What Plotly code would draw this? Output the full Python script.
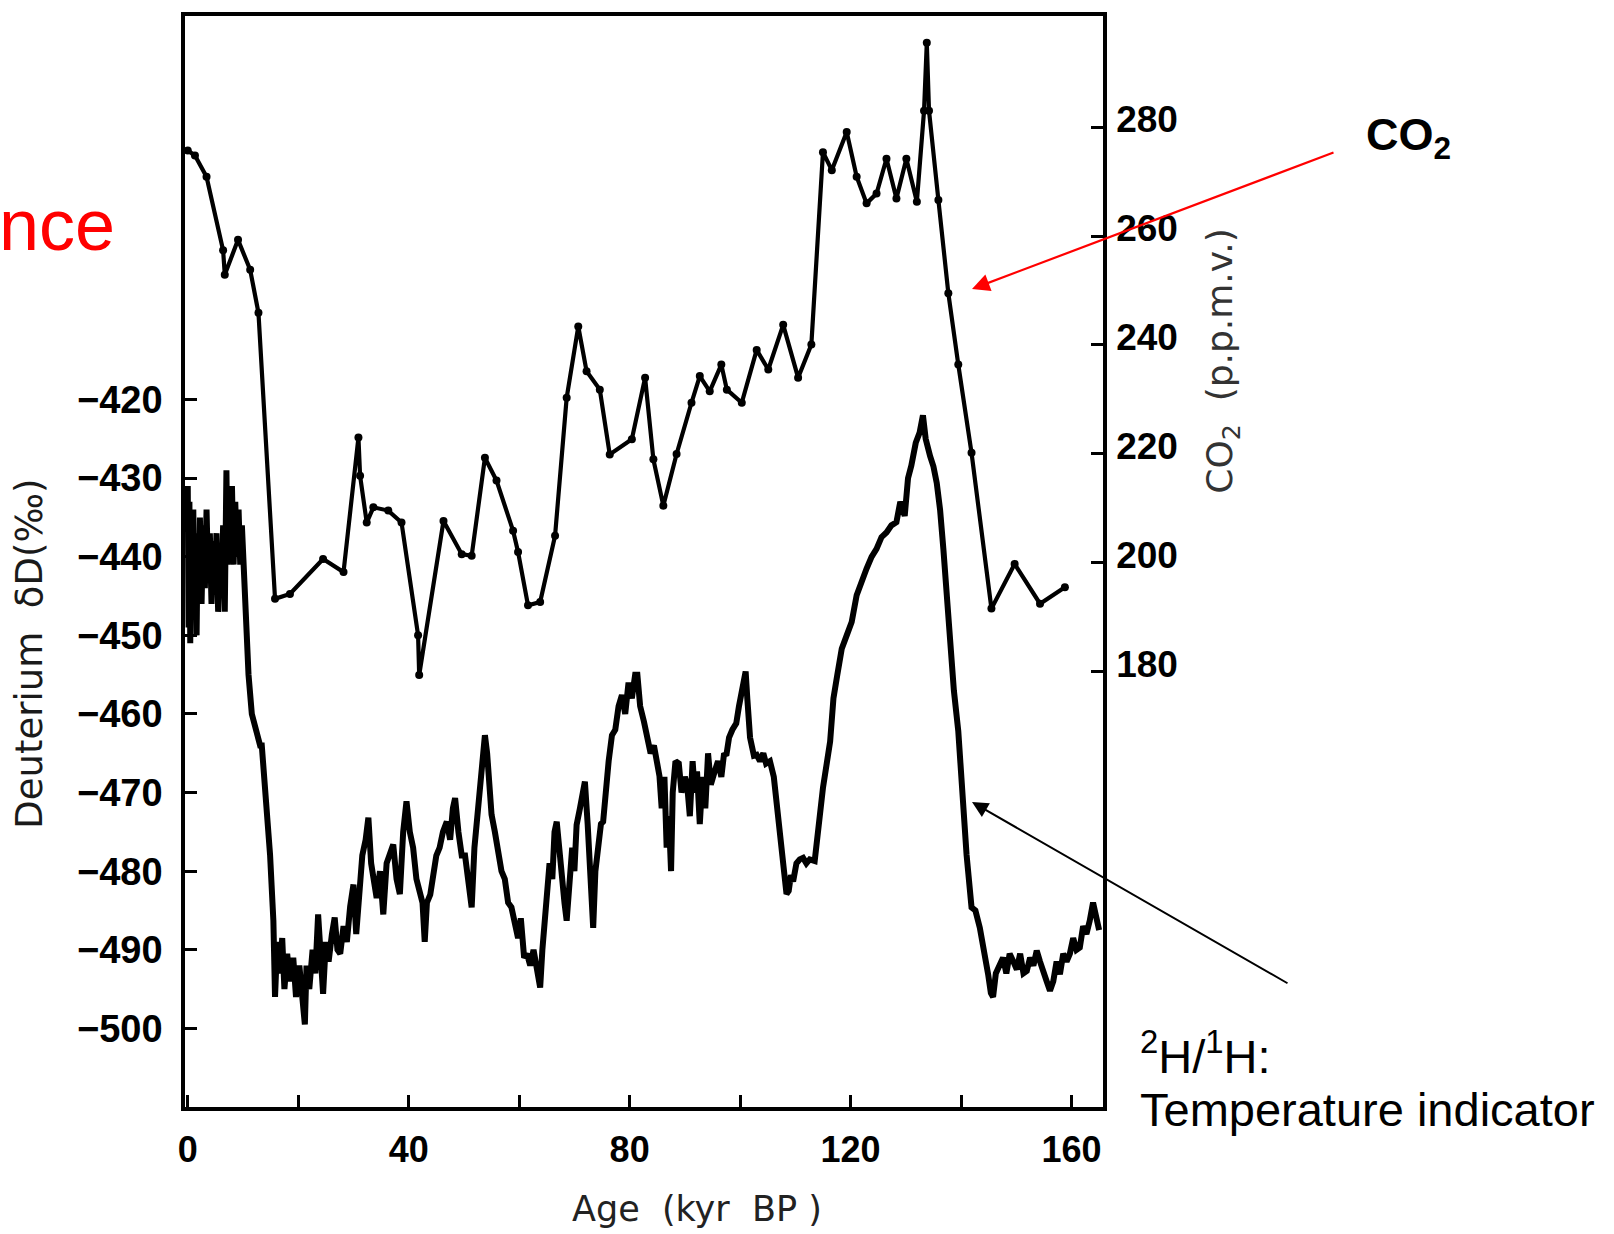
import plotly.graph_objects as go

# ---------------- data ----------------
co2_age = [0, 1.3, 3.4, 6.4, 6.7, 9.1, 11.3, 12.8, 15.8, 18.5, 24.5, 28.2, 30.9, 31.2, 32.4,
           33.6, 36.3, 38.7, 41.7, 41.9, 46.3, 49.6, 51.4, 53.8, 55.9, 58.9, 59.8, 61.6, 63.8,
           66.5, 68.6, 70.7, 72.2, 74.6, 76.4, 80.4, 82.8, 84.3, 86.1, 88.5, 91.2, 92.7, 94.5,
           96.6, 97.6, 100.3, 103.0, 105.1, 107.8, 110.5, 112.9, 115.0, 116.6, 119.3, 121.1,
           122.9, 124.7, 126.5, 128.3, 130.1, 132.0, 133.3, 133.8, 134.2, 135.9, 137.7, 139.5,
           141.9, 145.5, 149.7, 154.3, 158.8]
co2_ppmv = [275.7, 274.8, 270.9, 257.4, 252.9, 259.3, 253.8, 245.9, 193.4, 194.3, 200.7, 198.3,
            223.0, 216.0, 207.4, 210.2, 209.6, 207.4, 186.7, 179.4, 207.7, 201.6, 201.3, 219.3,
            215.1, 205.9, 202.0, 192.2, 192.8, 205.0, 230.3, 243.4, 235.2, 231.8, 219.9, 222.7,
            234.0, 219.0, 210.5, 220.0, 229.4, 234.3, 231.5, 236.4, 231.8, 229.4, 239.1, 235.5,
            243.7, 234.0, 240.1, 275.4, 272.1, 279.1, 270.9, 266.0, 267.8, 274.2, 266.9, 274.2,
            266.3, 283.0, 295.5, 283.0, 266.6, 249.5, 236.4, 220.2, 191.6, 199.8, 192.5, 195.5]

d_age = [0.0, 0.15, 0.3, 0.45, 0.6, 0.8, 1.0, 1.2, 1.4, 1.6, 1.8, 2.0, 2.2, 2.5, 2.8, 3.1, 3.4,
         3.7, 4.0, 4.3, 4.6, 4.9, 5.2, 5.5, 5.8, 6.1, 6.4, 6.7, 7.0, 7.2, 7.4, 7.7, 8.0, 8.3, 8.6,
         8.9, 9.2, 9.5, 9.8, 10.1, 10.4, 10.7, 11.0, 11.6, 12.3, 13.1, 13.4, 14.0, 14.9, 15.5,
         15.8, 16.2, 16.7, 17.1, 17.5, 18.0, 18.5, 19.1, 19.6, 20.2, 20.7, 21.2, 21.5, 22.0, 22.6,
         23.1, 23.6, 24.0, 24.5, 25.0, 25.5, 26.1, 26.6, 27.1, 27.6, 28.2, 28.8, 29.4, 30.0, 30.5,
         31.0, 31.6, 32.2, 32.7, 33.2, 33.7, 34.2, 34.8, 35.4, 36.0, 36.6, 37.2, 37.8, 38.4, 39.0,
         39.6, 40.2, 40.8, 41.4, 42.0, 42.5, 42.9, 43.3, 43.9, 44.4, 45.0, 45.6, 46.2, 46.9, 47.5,
         48.0, 48.4, 49.0, 49.6, 50.2, 50.8, 51.4, 51.9, 52.6, 53.2, 53.8, 54.2, 54.6, 55.0, 55.6,
         56.2, 56.8, 57.4, 58.0, 58.6, 59.2, 59.8, 60.3, 60.9, 61.4, 62.0, 62.6, 63.2, 63.8, 64.2,
         64.6, 65.0, 65.5, 66.0, 66.4, 66.8, 67.3, 67.8, 68.2, 68.6, 69.1, 69.6, 70.0, 70.4, 71.0,
         71.5, 71.9, 72.4, 72.9, 73.4, 73.8, 74.3, 74.8, 75.2, 75.7, 76.2, 76.8, 77.4, 78.0, 78.6,
         79.2, 79.8, 80.4, 81.0, 81.4, 81.9, 82.6, 83.2, 83.8, 84.4, 85.0, 85.4, 85.8, 86.3, 86.7,
         87.1, 87.5, 87.8, 88.3, 88.9, 89.4, 90.0, 90.4, 90.9, 91.4, 91.8, 92.2, 92.7, 93.2, 93.7,
         94.2, 94.7, 95.4, 96.0, 96.6, 97.1, 97.5, 98.0, 98.6, 99.3, 99.8, 100.3, 100.7, 101.0,
         101.3, 101.8, 102.5, 103.0, 103.6, 104.2, 104.7, 105.4, 106.1, 106.6, 107.0, 107.5,
         108.0, 108.4, 108.8, 109.2, 109.6, 110.2, 110.8, 111.4, 112.0, 112.6, 113.5, 114.2,
         115.0, 116.3, 116.9, 117.6, 118.4, 119.3, 120.2, 121.1, 122.0, 122.9, 123.8, 124.7,
         125.6, 126.5, 127.4, 128.3, 129.0, 129.8, 130.4, 131.0, 131.8, 132.5, 133.1, 133.6,
         134.4, 135.0, 135.6, 136.2, 136.8, 137.4, 138.0, 138.7, 139.5, 140.1, 141.0, 141.9,
         142.6, 143.4, 144.2, 144.9, 145.4, 145.8, 146.3, 147.0, 147.6, 148.2, 148.8, 149.4,
         150.1, 150.7, 151.3, 151.9, 152.5, 153.1, 153.7, 154.3, 154.9, 155.5, 156.1, 156.7,
         157.3, 157.9, 158.5, 159.1, 159.7, 160.3, 160.9, 161.5, 162.1, 162.7, 163.3, 163.9,
         164.5, 165.0]
d_val = [-431, -449, -433, -451, -436, -448, -434, -447, -438, -450, -437, -445, -435, -446, -436,
         -444, -434, -443, -437, -446, -438, -444, -437, -447, -439, -445, -436, -447, -429, -441,
         -432, -440, -431, -441, -433, -440, -434, -441, -436, -442, -446, -451.7, -455, -460,
         -462, -464, -464, -469.4, -477.9, -486.3,
         -496, -489, -493, -488.5, -495, -490.5, -494, -491, -496, -492, -497, -499.5, -492, -495,
         -490, -493, -485.5, -491, -495.6, -489, -491.5, -488, -485.9, -490, -490.5, -487, -489,
         -484.5, -481.7, -488, -482, -478, -476, -473.2, -479, -481, -483.4, -480, -485.5, -479,
         -478, -476.6, -481, -482.9, -475, -471.1, -475, -477, -481, -483, -484, -489, -484, -483,
         -480, -478, -477, -475, -473.7, -476, -472, -470.7, -475, -478, -478, -481, -484.6, -477,
         -471.5, -466, -462.7, -465, -469, -472.8, -475, -478, -480, -481, -484, -484.6, -487,
         -488.5, -486, -491, -490.5, -492, -490, -493, -494.8, -490, -487, -482, -479, -481, -475,
         -473.7, -478, -482, -484, -486.3, -481, -477, -480, -474.1, -472, -470, -468.6, -474,
         -482, -487.2, -480, -476, -474, -473.7, -469, -466, -462.7, -462, -459, -457.6, -460,
         -456, -458, -455, -455, -459, -461, -462.7, -465, -464, -467, -467.9, -472, -468, -477,
         -473, -480, -470, -466, -466.3, -470, -468, -468.9, -473, -466, -470, -467.3, -474, -468,
         -472, -465, -469, -467.3, -466, -468, -465, -465.3, -463, -462, -461.2, -459, -457, -455,
         -454.6, -458, -463, -465.3, -465.2, -466, -465, -466.3, -466, -468, -471, -474, -476,
         -480, -482.9, -482.5, -480.5, -481.3, -479, -478.5, -478.3, -479, -478.5, -478.7, -474,
         -469.4, -463.5, -458, -455, -451.7, -450, -448.3, -444.9, -443, -441.5, -440, -439,
         -437.5, -436.9, -436, -435.6, -433, -434.8, -430, -428.4, -425.5, -424.2, -422, -425,
         -427.2, -428.5, -430.6, -434, -439, -445, -451.7, -457, -462.2, -469.4, -477.9, -484.6,
         -485, -487.2, -490, -493.1, -495.5, -496, -493, -491.8, -491, -493, -490.5, -491.4,
         -492.5, -490.5, -493, -492.7, -491, -492, -490.1, -491.5, -493, -494, -495.2, -494,
         -491.5, -493.1, -490.5, -491.5, -490.5, -488.5, -490, -489.7, -487, -488, -486.3, -484,
         -485.9, -487.5]

x_tick_vals = [0, 20, 40, 60, 80, 100, 120, 140, 160]
x_tick_text = ["0", "", "40", "", "80", "", "120", "", "160"]
d_tick_vals = [-420, -430, -440, -450, -460, -470, -480, -490, -500]
co2_tick_vals = [180, 200, 220, 240, 260, 280]

# ---------------- figure ----------------
W, H = 1614, 1234
L, R, T, B = 185, 1103, 12, 1107  # plot-area pixel box


def px(x):
    return (x - L) / (R - L)


def py(y):
    return (B - y) / (B - T)


TICKFONT = "Liberation Sans, Arial, sans-serif"

fig = go.Figure()
fig.add_trace(go.Scatter(x=d_age, y=d_val, mode="lines", yaxis="y",
                         line=dict(color="black", width=6), name="Deuterium",
                         showlegend=False))
fig.add_trace(go.Scatter(x=co2_age, y=co2_ppmv, mode="lines+markers", yaxis="y2",
                         line=dict(color="black", width=4.2),
                         marker=dict(color="black", size=8), name="CO2",
                         showlegend=False))

axis_common = dict(showgrid=False, zeroline=False, showline=True, linecolor="black",
                   linewidth=3.5, ticks="inside", ticklen=12, tickwidth=2.5, tickcolor="black")

fig.update_layout(
    width=W, height=H, autosize=False,
    margin=dict(l=L, r=W - R, t=T, b=H - B, pad=0),
    paper_bgcolor="white", plot_bgcolor="white",
    xaxis=dict(range=[-0.5, 165.7], tickvals=x_tick_vals, ticktext=x_tick_text,
               mirror=True, ticklabelstandoff=8,
               tickfont=dict(family=TICKFONT, size=36, color="black", weight="bold"),
               **axis_common),
    yaxis=dict(range=[-510, -371.2], tickvals=d_tick_vals, ticklabelstandoff=11,
               tickfont=dict(family=TICKFONT, size=38, color="black", weight="bold"),
               **axis_common),
    yaxis2=dict(range=[100.1, 300.4], tickvals=co2_tick_vals, overlaying="y", side="right",
                ticklabelstandoff=2, ticklabelshift=-8,
                tickfont=dict(family=TICKFONT, size=37, color="black", weight="bold"),
                **axis_common),
)

NB = "\u00a0"
ann = []
# axis titles
ann.append(dict(text="Deuterium" + NB * 2 + "δD(‰)", x=px(30), y=py(652), xref="paper", yref="paper",
                textangle=-90, showarrow=False, xanchor="center", yanchor="middle",
                font=dict(family="DejaVu Sans", size=37, color="#1a1a1a")))
ann.append(dict(text="CO<sub>2</sub>" + NB * 2 + "(p.p.m.v.)", x=px(1223), y=py(358), xref="paper",
                yref="paper", textangle=-90, showarrow=False, xanchor="center", yanchor="middle",
                font=dict(family="DejaVu Sans", size=36, color="#333333")))
ann.append(dict(text="Age" + NB * 2 + "(kyr" + NB * 2 + "BP" + NB + ")", x=px(697), y=py(1209),
                xref="paper", yref="paper", showarrow=False, xanchor="center", yanchor="middle",
                font=dict(family="DejaVu Sans", size=35, color="#222222")))
# slide fragments
ann.append(dict(text="nce", x=px(117), y=py(222), xref="paper", yref="paper", showarrow=False,
                xanchor="right", yanchor="middle",
                font=dict(family="Liberation Sans", size=72, color="#ff0000")))
ann.append(dict(text="<b>CO<sub>2</sub></b>", x=px(1364), y=py(134), xref="paper", yref="paper",
                showarrow=False, xanchor="left", yanchor="middle",
                font=dict(family="Liberation Sans", size=45, color="black")))
ann.append(dict(text="<sup>2</sup>H/<sup>1</sup>H:", x=px(1138), y=py(1053), xref="paper",
                yref="paper", showarrow=False, xanchor="left", yanchor="middle",
                font=dict(family="Liberation Sans", size=47, color="black")))
ann.append(dict(text="Temperature indicator", x=px(1138), y=py(1110), xref="paper", yref="paper",
                showarrow=False, xanchor="left", yanchor="middle",
                font=dict(family="Liberation Sans", size=47, color="black")))
# arrows
ann.append(dict(text="", x=px(972), y=py(286), xref="paper", yref="paper", showarrow=True,
                ax=1335 - 972, ay=149 - 286, arrowcolor="#ff0000", arrowwidth=2.2,
                arrowhead=2, arrowsize=1.6))
ann.append(dict(text="", x=px(972), y=py(801), xref="paper", yref="paper", showarrow=True,
                ax=1289 - 972, ay=983 - 801, arrowcolor="black", arrowwidth=2,
                arrowhead=2, arrowsize=1.6))
fig.update_layout(annotations=ann)

fig.write_html("out.html", config={"displayModeBar": False},
               post_script="document.body.style.margin='0';")
